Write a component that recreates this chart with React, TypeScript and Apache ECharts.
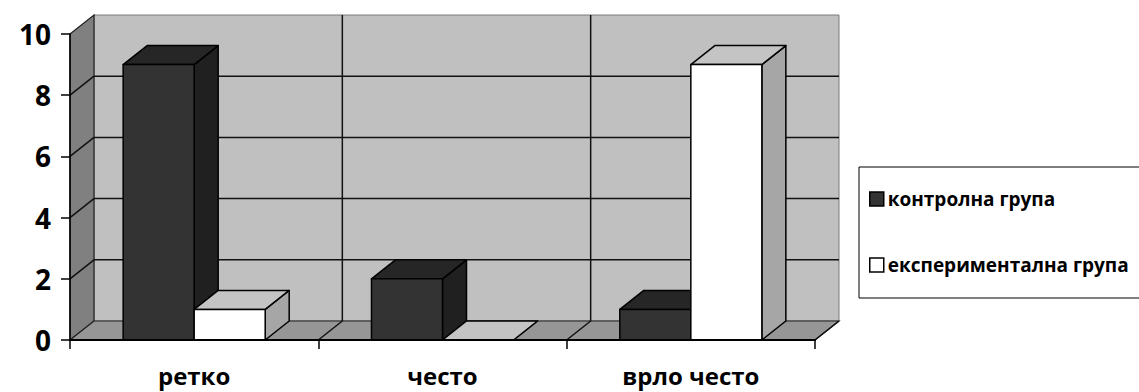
import React, { useEffect, useRef } from "react";
import * as echarts from "echarts";

// Answer categories and counts per group
const categories = ["ретко", "често", "врло често"];
const controlGroup = [9, 2, 1];
const experimentalGroup = [1, 0, 9];
const seriesNames = ["контролна група", "експериментална група"];

// Value axis range
const valueMin = 0;
const valueMax = 10;
const valueStep = 2;

// Depth of the pseudo-3D box, in pixels
const DX = 24;
const DY = 19;

const FONT = "'Open Sans', 'Noto Sans', sans-serif";

type Shade = { front: string; top: string; side: string };

const darkShade: Shade = { front: "#333333", top: "#262626", side: "#202020" };
const lightShade: Shade = { front: "#ffffff", top: "#c4c4c4", side: "#a6a6a6" };

function barRenderer(offsetIndex: number, shade: Shade) {
  return (params: any, api: any) => {
    const cat = api.value(0);
    const val = api.value(1);
    const base = api.coord([cat, 0]);
    const top = api.coord([cat, val]);
    const band = api.size([1, 0])[0];
    const w = band * 0.286;
    const x0 = base[0] - w + offsetIndex * w;
    const x1 = x0 + w;
    const yb = base[1];
    const yt = top[1];
    const stroke = { stroke: "#000", lineWidth: 1.5, lineJoin: "round" };
    return {
      type: "group",
      children: [
        {
          type: "polygon",
          shape: { points: [[x1, yb], [x1 + DX, yb - DY], [x1 + DX, yt - DY], [x1, yt]] },
          style: { fill: shade.side, ...stroke },
        },
        {
          type: "polygon",
          shape: { points: [[x0, yt], [x0 + DX, yt - DY], [x1 + DX, yt - DY], [x1, yt]] },
          style: { fill: shade.top, ...stroke },
        },
        {
          type: "polygon",
          shape: { points: [[x0, yb], [x0, yt], [x1, yt], [x1, yb]] },
          style: { fill: shade.front, ...stroke },
        },
      ],
    };
  };
}

function frameRenderer(params: any, api: any) {
  const cs = params.coordSys;
  const x0 = cs.x;
  const x1 = cs.x + cs.width;
  const yt = cs.y;
  const yb = cs.y + cs.height;
  const band = cs.width / categories.length;
  const children: any[] = [];

  // back wall
  children.push({
    type: "rect",
    shape: { x: x0 + DX, y: yt - DY, width: x1 - x0, height: yb - yt },
    style: { fill: "#c0c0c0", stroke: "#7a7a7a", lineWidth: 1 },
  });
  // left side wall
  children.push({
    type: "polygon",
    shape: { points: [[x0, yt], [x0 + DX, yt - DY], [x0 + DX, yb - DY], [x0, yb]] },
    style: { fill: "#808080", stroke: "#222", lineWidth: 1.2 },
  });
  // floor
  children.push({
    type: "polygon",
    shape: { points: [[x0, yb], [x0 + DX, yb - DY], [x1 + DX, yb - DY], [x1, yb]] },
    style: { fill: "#969696", stroke: "#222", lineWidth: 1.2 },
  });

  // value gridlines on the back wall and the side wall
  for (let v = valueMin + valueStep; v < valueMax; v += valueStep) {
    const y = api.coord([0, v])[1];
    children.push({
      type: "line",
      shape: { x1: x0 + DX, y1: y - DY, x2: x1 + DX, y2: y - DY },
      style: { stroke: "#111", lineWidth: 1.5 },
    });
    children.push({
      type: "line",
      shape: { x1: x0, y1: y, x2: x0 + DX, y2: y - DY },
      style: { stroke: "#111", lineWidth: 1.5 },
    });
  }

  // category separators on the back wall and the floor
  for (let k = 1; k <= categories.length; k++) {
    const x = x0 + k * band;
    if (k < categories.length) {
      children.push({
        type: "line",
        shape: { x1: x + DX, y1: yt - DY, x2: x + DX, y2: yb - DY },
        style: { stroke: "#111", lineWidth: 1.5 },
      });
    }
    children.push({
      type: "line",
      shape: { x1: x, y1: yb, x2: x + DX, y2: yb - DY },
      style: { stroke: "#111", lineWidth: 1.5 },
    });
  }
  return { type: "group", children };
}

export default function App() {
  const ref = useRef<HTMLDivElement>(null);

  useEffect(() => {
    if (!ref.current) return;
    const chart = echarts.init(ref.current, undefined, { renderer: "svg" });
    const toPairs = (arr: number[]) => arr.map((v, i) => [i, v]);

    chart.setOption({
      animation: false,
      backgroundColor: "#ffffff",
      grid: { left: 70, top: 34, width: 745, height: 306, containLabel: false },
      xAxis: {
        type: "category",
        data: categories,
        boundaryGap: true,
        axisLine: { show: true, lineStyle: { color: "#000", width: 2 } },
        axisTick: { show: true, length: 9, alignWithLabel: false, lineStyle: { color: "#000", width: 1.5 } },
        axisLabel: {
          color: "#000",
          fontSize: 24,
          fontWeight: "bold",
          fontFamily: FONT,
          margin: 23,
        },
        splitLine: { show: false },
        z: 5,
      },
      yAxis: {
        type: "value",
        min: valueMin,
        max: valueMax,
        interval: valueStep,
        axisLine: { show: true, lineStyle: { color: "#000", width: 1.5 } },
        axisTick: { show: true, length: 9, lineStyle: { color: "#000", width: 1.5 } },
        axisLabel: {
          color: "#000",
          fontSize: 28,
          fontWeight: "bold",
          fontFamily: FONT,
          margin: 19,
        },
        splitLine: { show: false },
        z: 5,
      },
      legend: {
        orient: "vertical",
        left: 859,
        top: 167,
        padding: [21, 80, 22, 10],
        itemGap: 44,
        itemWidth: 14,
        itemHeight: 14,
        backgroundColor: "#fff",
        borderColor: "#000",
        borderWidth: 1,
        borderRadius: 0,
        icon: "rect",
        textStyle: {
          color: "#000",
          fontSize: 19,
          fontWeight: "bold",
          fontFamily: FONT,
          lineHeight: 22,
          padding: [0, 0, 0, -1],
        },
        data: [
          { name: seriesNames[0], itemStyle: { color: darkShade.front, borderColor: "#000", borderWidth: 1.5 } },
          { name: seriesNames[1], itemStyle: { color: "#fff", borderColor: "#000", borderWidth: 1.5 } },
        ],
      },
      series: [
        {
          type: "custom",
          name: "frame",
          renderItem: frameRenderer,
          data: [[0, 0]],
          silent: true,
          z: 1,
        },
        {
          type: "custom",
          name: seriesNames[0],
          renderItem: barRenderer(0, darkShade),
          itemStyle: { color: darkShade.front },
          data: toPairs(controlGroup),
          encode: { x: 0, y: 1 },
          z: 2,
        },
        {
          type: "custom",
          name: seriesNames[1],
          renderItem: barRenderer(1, lightShade),
          itemStyle: { color: "#fff" },
          data: toPairs(experimentalGroup),
          encode: { x: 0, y: 1 },
          z: 3,
        },
      ],
    });

    return () => chart.dispose();
  }, []);

  return (
    <div
      ref={ref}
      style={{ position: "fixed", left: 0, top: 0, width: 1139, height: 392 }}
    />
  );
}
